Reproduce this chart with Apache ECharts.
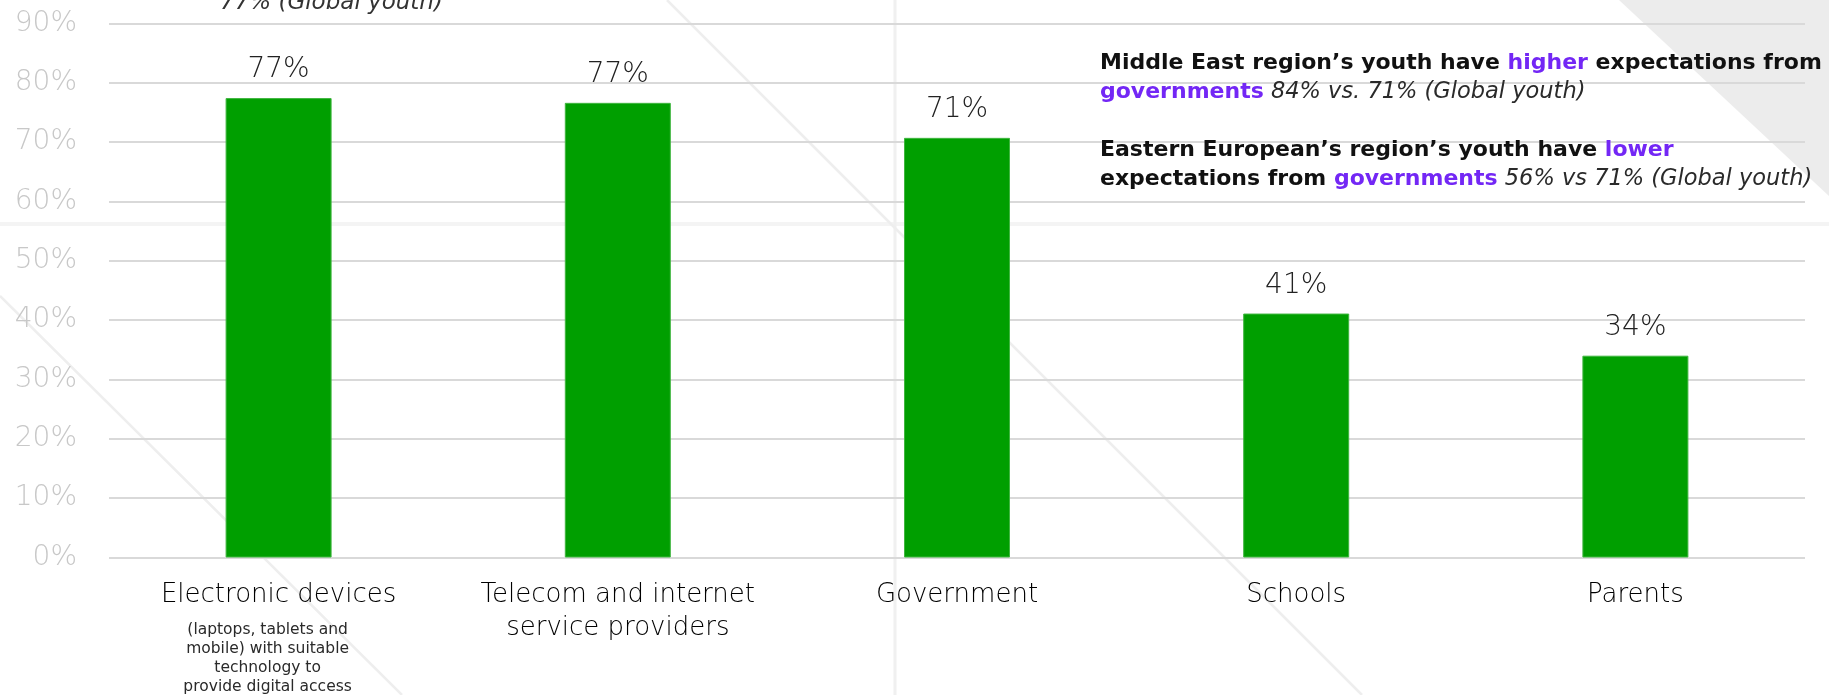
<!DOCTYPE html>
<html>
<head>
<meta charset="utf-8">
<script src="https://cdn.jsdelivr.net/npm/echarts@6/dist/echarts.min.js"></script>
<style>
  html, body { margin: 0; padding: 0; background: #ffffff; }
  #chart { width: 1829px; height: 695px; }
</style>
</head>
<body>
<div id="chart"></div>
<script>
// Who young people expect to provide digital access (share of respondents, %)
const categories = [
  'Electronic devices',
  'Telecom and internet\nservice providers',
  'Government',
  'Schools',
  'Parents'
];
const categoryNotes = [
  '(laptops, tablets and\nmobile) with suitable\ntechnology to\nprovide digital access',
  '', '', '', ''
];
const expectationShare = [77.4, 76.6, 70.7, 41.1, 34.0];

// Value axis ticks: 0% … 90% in steps of 10
const yMin = 0;
const yMax = 90;
const yStep = 10;

// Regional call-outs
const carryOverLine = '77% (Global youth)';
const middleEastNote = [
  '{b|Middle East region’s youth have }{p|higher}{b| expectations from}',
  '{p|governments}{i| 84% vs. 71% (Global youth)}'
];
const easternEuropeNote = [
  '{b|Eastern European’s region’s youth have }{p|lower}',
  '{b|expectations from }{p|governments}{i| 56% vs 71% (Global youth)}'
];

const FONT = '"DejaVu Sans", Inter, sans-serif';
const GREEN = '#009f00';
const PURPLE = '#7327f5';

const chart = echarts.init(document.getElementById('chart'), null, { renderer: 'canvas' });

const noteRich = {
  b: { fontFamily: FONT, fontSize: 22, fontWeight: 700, fill: '#111111', lineHeight: 29 },
  p: { fontFamily: FONT, fontSize: 22, fontWeight: 700, fill: PURPLE, lineHeight: 29 },
  i: { fontFamily: FONT, fontSize: 22.5, fontWeight: 200, fontStyle: 'italic', fill: '#2a2a2a', lineHeight: 29 }
};

chart.setOption({
  backgroundColor: '#ffffff',
  animation: false,
  grid: { left: 109, right: 24, top: 23.3, bottom: 136.3, containLabel: false },
  xAxis: {
    type: 'category',
    data: categories,
    axisLine: { show: false },
    axisTick: { show: false },
    axisLabel: {
      interval: 0,
      margin: 21,
      formatter: (value, idx) => {
        const main = value.split('\n').map(l => '{main|' + l + '}').join('\n');
        const note = categoryNotes[idx];
        if (!note) return main;
        // small note block under the category name, sitting slightly left of centre
        return main + '\n{gap| }\n' + note.split('\n').map(l => '{note|' + l + '}{shift| }').join('\n');
      },
      rich: {
        main: { fontFamily: FONT, fontSize: 26, fontWeight: 200, color: '#000000', lineHeight: 33, align: 'center' },
        gap: { fontSize: 6, lineHeight: 9, align: 'center' },
        note: { fontFamily: FONT, fontSize: 15.5, fontWeight: 400, color: '#2a2a2a', lineHeight: 19, align: 'center' },
        shift: { fontSize: 6, width: 22, lineHeight: 19, align: 'center' }
      }
    }
  },
  yAxis: {
    type: 'value',
    min: yMin,
    max: yMax,
    interval: yStep,
    axisLine: { show: false },
    axisTick: { show: false },
    splitLine: { show: true, lineStyle: { color: '#d9d9d9', width: 2 } },
    axisLabel: {
      margin: 32,
      formatter: '{value}%',
      fontFamily: FONT,
      fontSize: 28,
      fontWeight: 200,
      color: '#c8c8c8'
    }
  },
  series: [{
    type: 'bar',
    data: expectationShare,
    barWidth: 106,
    itemStyle: { color: GREEN, borderColor: '#3fb63f', borderWidth: 1 },
    label: {
      show: true,
      position: 'top',
      distance: 14,
      formatter: p => Math.round(p.value) + '%',
      fontFamily: FONT,
      fontSize: 28,
      fontWeight: 200,
      color: '#222222'
    },
    z: 5
  }],
  graphic: [
    // soft background decoration
    { type: 'polygon', z: -10, silent: true,
      shape: { points: [[1619, 0], [1829, 0], [1829, 196]] },
      style: { fill: '#ececec' } },
    { type: 'rect', z: -10, silent: true,
      shape: { x: 0, y: 222, width: 1829, height: 4 },
      style: { fill: '#f4f4f4' } },
    { type: 'line', z: -10, silent: true,
      shape: { x1: 895, y1: 0, x2: 895, y2: 695 },
      style: { stroke: '#f0f0f0', lineWidth: 3 } },
    { type: 'line', z: -10, silent: true,
      shape: { x1: 667, y1: 0, x2: 1362, y2: 695 },
      style: { stroke: '#eeeeee', lineWidth: 2.5 } },
    { type: 'line', z: -10, silent: true,
      shape: { x1: 0, y1: 296, x2: 402, y2: 695 },
      style: { stroke: '#eeeeee', lineWidth: 2.5 } },
    // call-out text
    { type: 'text', z: 100, silent: true, x: 220, y: 3,
      style: { text: carryOverLine, fontFamily: FONT, fontSize: 23, fontWeight: 200, fontStyle: 'italic',
               fill: '#333333', align: 'left', verticalAlign: 'middle' } },
    { type: 'text', z: 100, silent: true, x: 1100, y: 48.5,
      style: { text: middleEastNote.join('\n'), rich: noteRich, fontFamily: FONT, fontSize: 22,
               lineHeight: 29, align: 'left', verticalAlign: 'top' } },
    { type: 'text', z: 100, silent: true, x: 1100, y: 135.5,
      style: { text: easternEuropeNote.join('\n'), rich: noteRich, fontFamily: FONT, fontSize: 22,
               lineHeight: 29, align: 'left', verticalAlign: 'top' } }
  ]
});
</script>
</body>
</html>
